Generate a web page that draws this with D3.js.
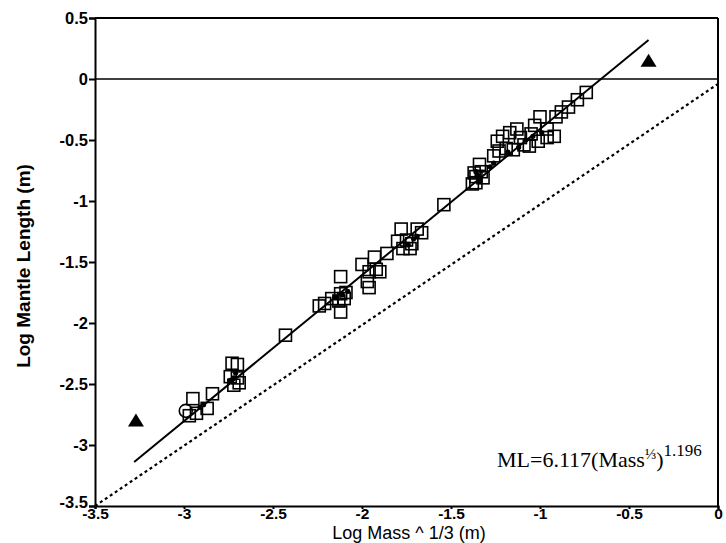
<!DOCTYPE html>
<html>
<head>
<meta charset="utf-8">
<script src="https://cdn.jsdelivr.net/npm/d3@7"></script>
<style>
  body { margin: 0; background: #fff; }
  .tick text { font-family: "Liberation Sans", Arial, sans-serif; font-weight: bold; fill: #000; }
  .axis-title { font-family: "Liberation Sans", Arial, sans-serif; fill: #000; }
</style>
</head>
<body>
<div id="chart"></div>
<script>
// tick values
var xTicks = [-3.5, -3, -2.5, -2, -1.5, -1, -0.5, 0];
var yTicks = [0.5, 0, -0.5, -1, -1.5, -2, -2.5, -3, -3.5];

// open squares
var squareX = [-2.97, -2.95, -2.93, -2.87, -2.84,
  -2.73, -2.70, -2.74, -2.70, -2.72, -2.69,
  -2.43,
  -2.24, -2.21, -2.17, -2.12, -2.09, -2.13, -2.10, -2.12, -2.12,
  -2.00, -1.93, -1.97, -1.96, -1.92, -1.90, -1.86, -1.96,
  -1.78, -1.69, -1.665, -1.80, -1.75, -1.72, -1.73, -1.77,
  -1.54,
  -1.34, -1.37, -1.32, -1.36, -1.33, -1.36, -1.38,
  -1.24, -1.21, -1.17, -1.13, -1.11, -1.09, -1.03, -1.00, -0.96, -0.96, -0.92, -1.01, -1.06, -1.19, -1.23, -1.26, -1.15, -1.05,
  -0.91, -0.88, -0.84, -0.79, -0.74];
var squareY = [-2.76, -2.62, -2.74, -2.70, -2.58,
  -2.33, -2.34, -2.44, -2.45, -2.51, -2.49,
  -2.10,
  -1.86, -1.84, -1.80, -1.76, -1.75, -1.82, -1.80, -1.91, -1.62,
  -1.52, -1.46, -1.66, -1.71, -1.56, -1.58, -1.43, -1.58,
  -1.23, -1.23, -1.26, -1.33, -1.32, -1.35, -1.39, -1.39,
  -1.03,
  -0.70, -0.77, -0.81, -0.85, -0.76, -0.80, -0.86,
  -0.51, -0.47, -0.44, -0.41, -0.48, -0.54, -0.38, -0.31, -0.41, -0.48, -0.47, -0.51, -0.55, -0.57, -0.59, -0.63, -0.58, -0.45,
  -0.31, -0.27, -0.23, -0.17, -0.11];

// open circles
var circleX = [-2.99];
var circleY = [-2.72];

// small filled dots
var dotX = [-2.91, -2.89, -2.74, -2.71, -2.72, -2.15, -2.11, -2.08, -1.74, -1.71, -1.69, -1.35, -1.34, -1.36, -1.12, -1.08, -1.04, -0.99, -1.18, -1.26, -1.28];
var dotY = [-2.69, -2.67, -2.47, -2.41, -2.45, -1.79, -1.77, -1.74, -1.36, -1.31, -1.29, -0.79, -0.83, -0.76, -0.56, -0.50, -0.47, -0.44, -0.60, -0.69, -0.72];

// filled triangles
var triX = [-3.27, -0.39];
var triY = [-2.80, 0.15];

// fitted line and 1:1 line end points
var fitX = [-3.28, -0.39];
var fitY = [-3.14, 0.32];
var refX = [-3.5, 0];
var refY = [-3.5, -0.04];

var W = 726, H = 543;
var plotLeft = 95, plotRight = 718, plotTop = 18, plotBottom = 506;

var svg = d3.select("#chart").append("svg")
    .attr("width", W)
    .attr("height", H);

var x = d3.scaleLinear().domain([-3.5, 0]).range([plotLeft, plotRight]);
var y = d3.scaleLinear().domain([-3.5, 0.5]).range([plotBottom, plotTop]);

// axes
var xAxis = svg.append("g")
    .attr("transform", "translate(0," + plotBottom + ")")
    .call(d3.axisBottom(x).tickValues(xTicks).tickSize(3).tickPadding(-1)
      .tickFormat(function(d) { return String(d); }));
var yAxis = svg.append("g")
    .attr("transform", "translate(" + plotLeft + ",0)")
    .call(d3.axisLeft(y).tickValues(yTicks).tickSize(6).tickPadding(1)
      .tickFormat(function(d) { return String(d); }));

[xAxis, yAxis].forEach(function(g) {
  g.select(".domain").attr("stroke", "#000").attr("stroke-width", 2);
  g.selectAll(".tick line").attr("stroke", "#000").attr("stroke-width", 2);
});
xAxis.selectAll(".tick text").attr("font-size", 15.5);
yAxis.selectAll(".tick text").attr("font-size", 16.5).attr("dy", "0.36em");
yAxis.selectAll(".tick text").filter(function(d) { return d === -3.5; }).attr("dy", "0.1em");

// frame: top and right borders, zero line
svg.append("line")
    .attr("x1", plotLeft).attr("x2", plotRight)
    .attr("y1", y(0.5)).attr("y2", y(0.5))
    .attr("stroke", "#000").attr("stroke-width", 2);
svg.append("line")
    .attr("x1", plotRight).attr("x2", plotRight)
    .attr("y1", y(0.5)).attr("y2", plotBottom)
    .attr("stroke", "#000").attr("stroke-width", 2);
svg.append("line")
    .attr("x1", plotLeft).attr("x2", plotRight)
    .attr("y1", y(0)).attr("y2", y(0))
    .attr("stroke", "#000").attr("stroke-width", 1.6);

// 1:1 dotted line
svg.append("line")
    .attr("x1", x(refX[0])).attr("y1", y(refY[0]))
    .attr("x2", x(refX[1])).attr("y2", y(refY[1]))
    .attr("stroke", "#000").attr("stroke-width", 2.2)
    .attr("stroke-dasharray", "3,3");

// fitted line
svg.append("line")
    .attr("x1", x(fitX[0])).attr("y1", y(fitY[0]))
    .attr("x2", x(fitX[1])).attr("y2", y(fitY[1]))
    .attr("stroke", "#000").attr("stroke-width", 2);

// squares
var sq = 12;
svg.append("g").selectAll("rect")
    .data(d3.range(squareX.length))
  .enter().append("rect")
    .attr("x", function(i) { return x(squareX[i]) - sq / 2; })
    .attr("y", function(i) { return y(squareY[i]) - sq / 2; })
    .attr("width", sq).attr("height", sq)
    .attr("fill", "none").attr("stroke", "#000").attr("stroke-width", 1.6);

svg.append("g").selectAll("circle")
    .data(d3.range(circleX.length))
  .enter().append("circle")
    .attr("cx", function(i) { return x(circleX[i]); })
    .attr("cy", function(i) { return y(circleY[i]); })
    .attr("r", 6.5)
    .attr("fill", "none").attr("stroke", "#000").attr("stroke-width", 1.6);

svg.append("g").selectAll("circle")
    .data(d3.range(dotX.length))
  .enter().append("circle")
    .attr("cx", function(i) { return x(dotX[i]); })
    .attr("cy", function(i) { return y(dotY[i]); })
    .attr("r", 2.6)
    .attr("fill", "#000");

// triangles
svg.append("g").selectAll("path")
    .data(d3.range(triX.length))
  .enter().append("path")
    .attr("d", function(i) {
      var cx = x(triX[i]), cy = y(triY[i]);
      return "M" + (cx - 8) + "," + (cy + 6) + "L" + (cx + 8) + "," + (cy + 6) + "L" + cx + "," + (cy - 7) + "Z";
    })
    .attr("fill", "#000");

// axis titles
svg.append("text")
    .attr("class", "axis-title")
    .attr("x", 409)
    .attr("y", 538.5)
    .attr("font-size", 18)
    .attr("text-anchor", "middle")
    .text("Log Mass ^ 1/3 (m)");
svg.append("text")
    .attr("class", "axis-title")
    .attr("transform", "translate(30,266) rotate(-90)")
    .attr("font-size", 19)
    .attr("font-weight", "bold")
    .attr("text-anchor", "middle")
    .text("Log Mantle Length (m)");

// equation
var eq = svg.append("text")
    .attr("x", 497).attr("y", 467)
    .attr("font-family", "'Liberation Serif', 'Times New Roman', serif")
    .attr("font-size", 22)
    .attr("fill", "#000");
eq.append("tspan").text("ML=6.117(Mass");
eq.append("tspan").attr("font-size", 15).attr("dy", -8).text("⅓");
eq.append("tspan").attr("dy", 8).text(")");
eq.append("tspan").attr("font-size", 17).attr("dy", -11).text("1.196");
</script>
</body>
</html>
